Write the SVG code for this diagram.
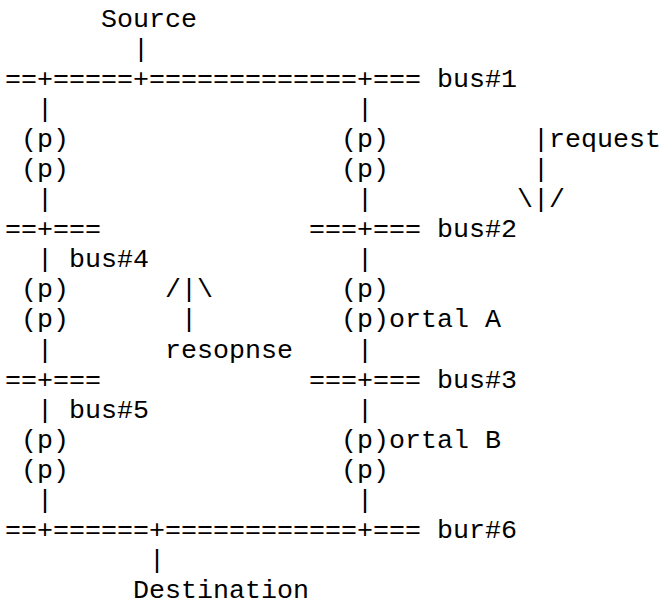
<svg xmlns="http://www.w3.org/2000/svg" width="661" height="602" viewBox="0 0 661 602">
<style>
text{font-family:"Liberation Mono","Courier New",monospace;font-size:26.667px;fill:#000;white-space:pre}
</style>
<rect width="661" height="602" fill="#fff"/>
<g id="source"><text x="101" y="26.8">Source</text></g>
<g id="bus1"><text x="5" y="86.9">==+=====+=============+=== bus#1</text></g>
<g id="portals-1">
<text x="21" y="147">(p)</text><text x="21" y="177">(p)</text>
<text x="341" y="147">(p)</text><text x="341" y="177">(p)</text>
</g>
<g id="request"><text x="533" y="147">|request</text><text x="533" y="177">|</text><text x="517" y="207.2">\|/</text></g>
<g id="bus4"><text x="5" y="237.3">==+===</text><text x="69" y="267.3">bus#4</text></g>
<g id="bus2"><text x="309" y="237.3">===+=== bus#2</text></g>
<g id="portals-2">
<text x="21" y="297.4">(p)</text><text x="21" y="327.4">(p)</text>
<text x="341" y="297.4">(p)</text><text x="341" y="327.4">(p)ortal A</text>
</g>
<g id="response"><text x="165" y="297.4">/|\</text><text x="181" y="327.4">|</text><text x="165" y="357.5">resopnse</text></g>
<g id="bus5"><text x="5" y="387.6">==+===</text><text x="69" y="417.6">bus#5</text></g>
<g id="bus3"><text x="309" y="387.6">===+=== bus#3</text></g>
<g id="portals-3">
<text x="21" y="447.7">(p)</text><text x="21" y="477.7">(p)</text>
<text x="341" y="447.7">(p)ortal B</text><text x="341" y="477.7">(p)</text>
</g>
<g id="bus6"><text x="5" y="538">==+======+============+=== bur#6</text></g>
<g id="destination"><text x="133" y="598.1">Destination</text></g>
<g id="connectors">
<text x="133" y="56.9">|</text>
<text x="37" y="117">|</text><text x="357" y="117">|</text>
<text x="37" y="207.2">|</text><text x="357" y="207.2">|</text>
<text x="37" y="267.3">|</text><text x="357" y="267.3">|</text>
<text x="37" y="357.5">|</text><text x="357" y="357.5">|</text>
<text x="37" y="417.6">|</text><text x="357" y="417.6">|</text>
<text x="37" y="507.8">|</text><text x="357" y="507.8">|</text>
<text x="149" y="568">|</text>
</g>
</svg>
